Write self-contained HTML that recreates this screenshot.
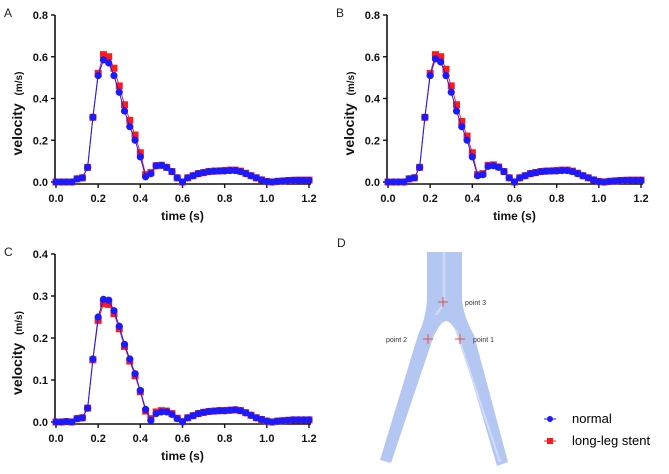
<!DOCTYPE html>
<html><head><meta charset="utf-8"><style>
body{margin:0;background:#fff;width:669px;height:474px;overflow:hidden;font-family:"Liberation Sans",sans-serif}
svg{position:absolute;left:0;top:0}
</style></head><body>
<svg id="s" width="669" height="474" xmlns="http://www.w3.org/2000/svg">
<g>
<path d="M427 252 L462 252 L462 300 Q464 318 474 335 L508 462 L497 466 L459 336 Q451 321 446 321 Q440 322 433 338 L391 463 L380 460 L418 335 Q426 318 427 300 Z" fill="#b3c7f2"/>
<line x1="444" y1="252" x2="444" y2="300" stroke="#c8d7f7" stroke-width="3"/>
<line x1="456" y1="330" x2="500" y2="462" stroke="#d0ddf8" stroke-width="2"/>
<line x1="436" y1="315" x2="443" y2="305" stroke="#d0ddf8" stroke-width="2"/>
<g stroke="#e05040" stroke-width="1">
<path d="M438 302h10M443 297v10"/><path d="M423 339h10M428 334v10"/><path d="M455 339h10M460 334v10"/>
</g>
<text x="465" y="305" font-size="7" fill="#333">point 3</text>
<text x="386" y="342" font-size="7" fill="#333">point 2</text>
<text x="473" y="342" font-size="7" fill="#333">point 1</text>
<text x="337" y="247" font-size="12" fill="#222">D</text>
</g>
<g>
<g><line x1="544" y1="419" x2="556" y2="419" stroke="#1a1aff"/><circle cx="550" cy="419" r="3" fill="#1a1aff"/><text x="572" y="423" font-size="13">normal</text></g>
<g><line x1="544" y1="441" x2="556" y2="441" stroke="#ff2020"/><rect x="547" y="438" width="6" height="6" fill="#ff1a1a"/><text x="572" y="445" font-size="13">long-leg stent</text></g>
</g>
</svg>
<script>
const times = Array.from({length:49},(_,i)=>i*0.025);
const normalA = [0,0,0,0,0.015,0.02,0.07,0.31,0.51,0.585,0.57,0.51,0.43,0.34,0.265,0.2,0.12,0.025,0.04,0.078,0.08,0.07,0.05,0.02,0.0,0.02,0.03,0.04,0.045,0.05,0.052,0.053,0.053,0.055,0.055,0.05,0.04,0.03,0.02,0.01,0.002,0,0.003,0.005,0.007,0.008,0.008,0.008,0.008];
const stentA = [0,0,0,0,0.015,0.02,0.07,0.31,0.52,0.61,0.6,0.545,0.46,0.37,0.295,0.225,0.14,0.035,0.045,0.078,0.08,0.07,0.05,0.02,0.0,0.02,0.03,0.04,0.045,0.05,0.052,0.053,0.055,0.057,0.057,0.052,0.042,0.03,0.02,0.01,0.003,0,0.003,0.005,0.007,0.008,0.009,0.009,0.009];
const normalB = [0,0,0,0,0.015,0.02,0.07,0.31,0.51,0.59,0.575,0.51,0.43,0.34,0.265,0.2,0.12,0.03,0.035,0.075,0.078,0.07,0.05,0.02,0.0,0.02,0.03,0.04,0.045,0.05,0.052,0.053,0.053,0.055,0.055,0.05,0.04,0.03,0.02,0.01,0.002,0,0.003,0.005,0.007,0.008,0.008,0.008,0.008];
const stentB = [0,0,0,0,0.015,0.02,0.07,0.31,0.52,0.61,0.6,0.54,0.46,0.37,0.29,0.22,0.14,0.035,0.04,0.08,0.082,0.072,0.05,0.02,0.0,0.02,0.03,0.04,0.045,0.05,0.052,0.053,0.055,0.057,0.057,0.052,0.042,0.03,0.02,0.01,0.003,0,0.003,0.005,0.007,0.008,0.009,0.009,0.009];
const normalC = [0,0,0.001,0,0.008,0.01,0.033,0.15,0.25,0.292,0.29,0.265,0.228,0.185,0.15,0.115,0.075,0.03,0.004,0.02,0.024,0.024,0.018,0.008,0.0,0.01,0.015,0.02,0.023,0.025,0.026,0.027,0.027,0.028,0.029,0.027,0.022,0.016,0.01,0.006,0.002,0,0.002,0.003,0.004,0.005,0.005,0.005,0.005];
const stentC = [0,0,0.001,0,0.008,0.01,0.033,0.148,0.242,0.282,0.28,0.258,0.222,0.18,0.145,0.11,0.072,0.026,0.008,0.024,0.027,0.026,0.02,0.009,0.001,0.01,0.015,0.02,0.023,0.025,0.026,0.027,0.027,0.028,0.029,0.027,0.022,0.016,0.01,0.006,0.002,0,0.002,0.003,0.004,0.005,0.005,0.005,0.005];
const xTicks = [0,0.2,0.4,0.6,0.8,1.0,1.2];
const yTicksAB = [0,0.2,0.4,0.6,0.8];
const yTicksC = [0,0.1,0.2,0.3,0.4];

const NS='http://www.w3.org/2000/svg';
const svg=document.getElementById('s');
function mk(tag,attrs,parent){const e=document.createElementNS(NS,tag);for(const k in attrs)e.setAttribute(k,attrs[k]);parent.appendChild(e);return e;}

function panel(id,letter,x0,x1,yTop,yBot,ymax,yTicks,normal,stent){
  const g=mk('g',{},svg);
  
  
  const sx=t=>x0+t/1.2*(x1-x0);
  const sy=v=>yBot-v/ymax*(yBot-yTop);
  const ax=mk('path',{d:`M${x0-1} ${yTop}V${yBot+2}H${x1+2}`,stroke:'#111','stroke-width':1.6,fill:'none'},g);
  
  
  yTicks.forEach(v=>{
    mk('line',{x1:x0-5,x2:x0-1,y1:sy(v),y2:sy(v),stroke:'#111','stroke-width':1.4},g);
    const t=mk('text',{x:x0-8,y:sy(v)+4,'font-size':11,'font-weight':'bold','text-anchor':'end',fill:'#111'},g);
    t.textContent=v.toFixed(1);
    
    
  });
  xTicks.forEach(v=>{
    mk('line',{x1:sx(v),x2:sx(v),y1:yBot+2,y2:yBot+6,stroke:'#111','stroke-width':1.4},g);
    const t=mk('text',{x:sx(v),y:yBot+20,'font-size':11,'font-weight':'bold','text-anchor':'middle',fill:'#111'},g);
    t.textContent=v.toFixed(1);
    
    
  });
  const xt=mk('text',{x:(x0+x1)/2,y:yBot+38,'font-size':12,'font-weight':'bold','text-anchor':'middle',fill:'#111'},g);
  xt.textContent='time (s)';
  
  
  const yt=mk('text',{transform:`translate(${x0-34},${(yTop+yBot)/2+15}) rotate(-90)`,'font-size':14,'font-weight':'bold','text-anchor':'middle',fill:'#111'},g);
  yt.innerHTML='velocity <tspan font-size="10" dx="4">(m/s)</tspan>';
  
  
  const lt=mk('text',{x:x0-52,y:yTop+2,'font-size':12,fill:'#222'},g);
  lt.textContent=letter;
  
  
  const ps=mk('polyline',{points:times.map((t,i)=>sx(t)+','+sy(stent[i])).join(' '),fill:'none',stroke:'#ff2020','stroke-width':1},g);
  
  
  times.forEach((t,i)=>{const r=mk('rect',{x:sx(t)-3.5,y:sy(stent[i])-3.5,width:7,height:7,fill:'#ff1a1a'},g);
    
    });
  const pn=mk('polyline',{points:times.map((t,i)=>sx(t)+','+sy(normal[i])).join(' '),fill:'none',stroke:'#1a1aff','stroke-width':1},g);
  
  
  times.forEach((t,i)=>{const c=mk('circle',{cx:sx(t),cy:sy(normal[i]),r:3.6,fill:'#1a1aff'},g);
    
    });
}
panel('a','A',56,309,15,182,0.8,yTicksAB,normalA,stentA);
panel('b','B',388,641,15,182,0.8,yTicksAB,normalB,stentB);
panel('c','C',56,309,254,422,0.4,yTicksC,normalC,stentC);
</script>
</body></html>
